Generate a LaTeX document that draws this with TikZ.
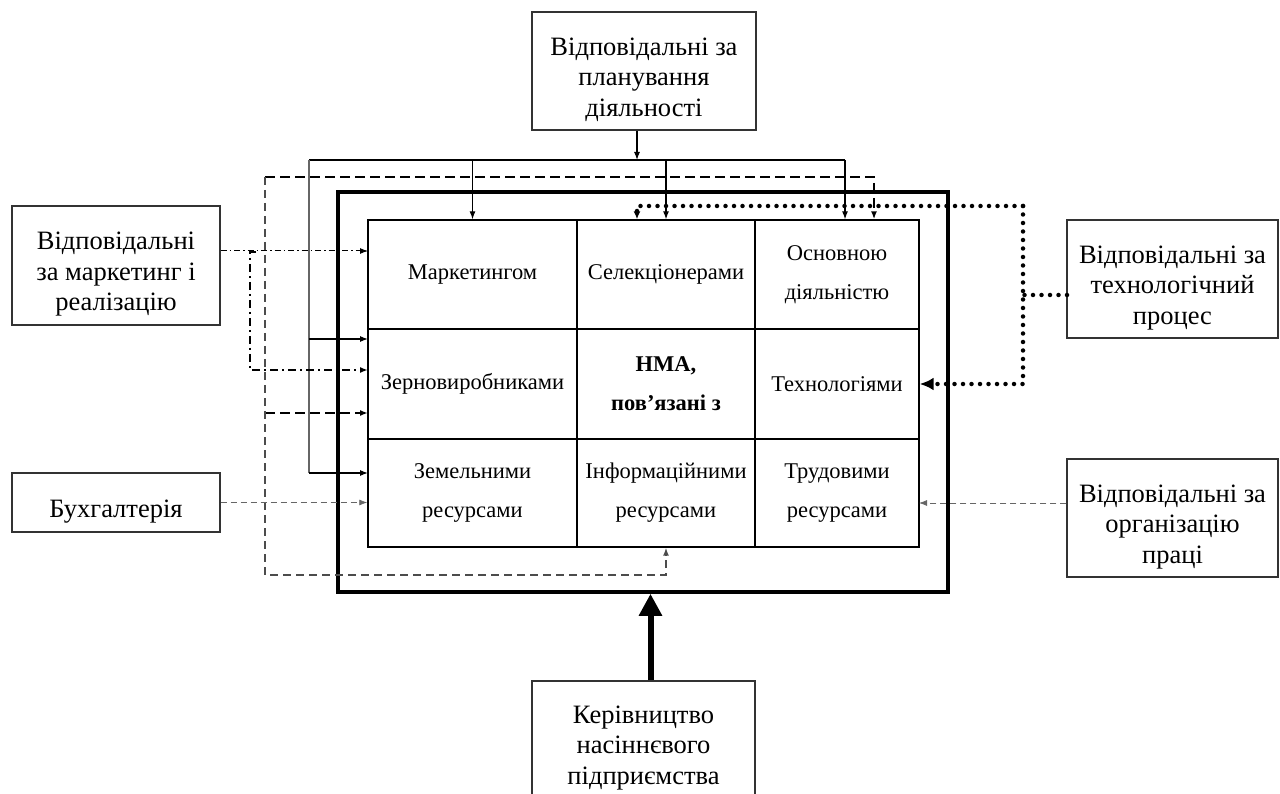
\documentclass[tikz,border=0pt]{standalone}
\usepackage{fontspec}
\setmainfont{Liberation Serif}
\usetikzlibrary{arrows.meta}

\newcommand{\topgap}{\rule{0pt}{35pt}}

\tikzset{
  box/.style={draw=black!80,line width=1.3pt,align=center,inner sep=0pt,font=\fontsize{26.5}{30.5}\selectfont},
  cell/.style={draw,line width=1.4pt,align=center,inner sep=0pt,font=\fontsize{22.5}{39}\selectfont},
  frame/.style={draw,line width=3.5pt,minimum width=610pt,minimum height=400pt,inner sep=0pt},
  solidln/.style={line width=1.1pt,-{Latex[length=8pt,width=6pt]}},
  dashblk/.style={line width=2pt,dash pattern=on 10pt off 5pt,-{Latex[length=8pt,width=6pt]}},
  dashgray/.style={black!70,line width=1.5pt,dash pattern=on 8pt off 5pt,-{Latex[length=8pt,width=6pt]}},
  dashthin/.style={black!60,line width=0.8pt,dash pattern=on 6pt off 4pt,-{Latex[length=8pt,width=6pt]}},
  ddot/.style={line width=1pt,dash pattern=on 6pt off 3pt on 1.5pt off 3pt,-{Latex[length=8pt,width=6pt]}},
  ddotb/.style={line width=2pt,dash pattern=on 8pt off 4pt on 2pt off 4pt,-{Latex[length=8pt,width=6pt]}},
  dotln/.style={line width=4.5pt,line cap=round,dash pattern=on 0pt off 8.5pt,-{Latex[length=8pt,width=7pt]}}
}

\begin{document}
\begin{tikzpicture}[x=1pt,y=-1pt]
        \useasboundingbox (0,0) rectangle (1280,794);
        \clip (0,0) rectangle (1280,794);

        % outer frame
        \node [frame] (frame) at (643,392) {};

        % grid of cells
        \node [cell,minimum width=209pt,minimum height=109pt] (c11) at (472.5,274.5) {Маркетингом};
        \node [cell,minimum width=178pt,minimum height=109pt] (c12) at (666,274.5) {Селекціонерами};
        \node [cell,minimum width=164pt,minimum height=109pt] (c13) at (837,274.5) {Основною\\діяльністю};
        \node [cell,minimum width=209pt,minimum height=110pt] (c21) at (472.5,384) {Зерновиробниками};
        \node [cell,minimum width=178pt,minimum height=110pt] (c22) at (666,384) {\bfseries НМА,\\\bfseries пов’язані з};
        \node [cell,minimum width=164pt,minimum height=110pt] (c23) at (837,384) {Технологіями};
        \node [cell,minimum width=209pt,minimum height=108pt] (c31) at (472.5,493) {Земельними\\ресурсами};
        \node [cell,minimum width=178pt,minimum height=108pt] (c32) at (666,493) {Інформаційними\\ресурсами};
        \node [cell,minimum width=164pt,minimum height=108pt] (c33) at (837,493) {Трудовими\\ресурсами};

        % outside boxes
        \node [box,minimum width=224pt,minimum height=118pt] (plan) at (644,71) {\topgap Відповідальні за\\планування\\діяльності};
        \node [box,minimum width=208pt,minimum height=119pt] (mark) at (116,265.5) {\topgap Відповідальні\\за маркетинг і\\реалізацію};
        \node [box,minimum width=208pt,minimum height=59pt] (bukh) at (116,502.5) {\topgap Бухгалтерія};
        \node [box,minimum width=211pt,minimum height=118pt] (tech) at (1172.5,279) {\topgap Відповідальні за\\технологічний\\процес};
        \node [box,minimum width=211pt,minimum height=118pt] (org) at (1172.5,518) {\topgap Відповідальні за\\організацію\\праці};
        \node [box,minimum width=223pt,minimum height=134pt] (ker) at (643.5,748) {Керівництво\\насіннєвого\\підприємства};

        % planning bus
        \coordinate (bus)  at (309,160);
        \coordinate (busE) at (845,160);
        \coordinate (sin1) at (368,339);
        \coordinate (sin2) at (368,473);
        \draw [solidln] ([xshift=-7pt]plan.south) -- ([xshift=-7pt]plan.south |- bus);
        \draw [line width=1.1pt] (bus) -- (busE);
        \draw [solidln] (busE) -- (busE |- c13.north);
        \draw [solidln] (c11.north |- bus) -- (c11.north);
        \draw [solidln] (c12.north |- bus) -- (c12.north);
        \draw [line width=1.1pt,black!60] (bus) -- (bus |- sin2);
        \draw [solidln] (bus |- sin1) -- (sin1);
        \draw [solidln] (bus |- sin2) -- (sin2);

        % dashed loop
        \coordinate (dsh)   at (265,177);
        \coordinate (dshE)  at (874,177);
        \coordinate (dshB)  at (265,575);
        \coordinate (dshIn) at (368,413);
        \draw [dashblk] (dsh) -- (dshE) -- (dshE |- c13.north);
        \draw [dashblk] (dsh |- dshIn) -- (dshIn);
        \draw [dashgray] (dsh) -- (dshB) -| (c32.south);

        % marketing, dash-dot
        \coordinate (dd1) at (368,251);
        \coordinate (dd2) at (368,370);
        \coordinate (ddT) at (250,252);
        \draw [ddot] (mark.east |- dd1) -- (dd1);
        \draw [ddotb] ([xshift=6pt]ddT) -- (ddT) -- (ddT |- dd2) -- (dd2);

        % accounting and labour
        \coordinate (og) at (919,503);
        \draw [dashthin] (bukh.east) -- (bukh.east -| c31.west);
        \draw [dashthin] (org.west |- og) -- (og);

        % technology, dotted
        \coordinate (tk)  at (1067,295);
        \coordinate (dtT) at (1023,206);
        \coordinate (dtL) at (637,206);
        \draw [dotln,-] (tk) -- (tk -| dtT);
        \draw [dotln] (dtT) -- (dtL) -- (dtL |- c12.north);
        \draw [dotln,-{Latex[length=14pt,width=13pt]}] (dtT) -- (dtT |- c23.east) -- (c23.east);

        % management
        \draw [line width=6pt,-{Triangle[length=22pt,width=22pt]}] ([xshift=7pt]ker.north) -- ([xshift=7pt]ker.north |- frame.south);

    \end{tikzpicture}
\end{document}
